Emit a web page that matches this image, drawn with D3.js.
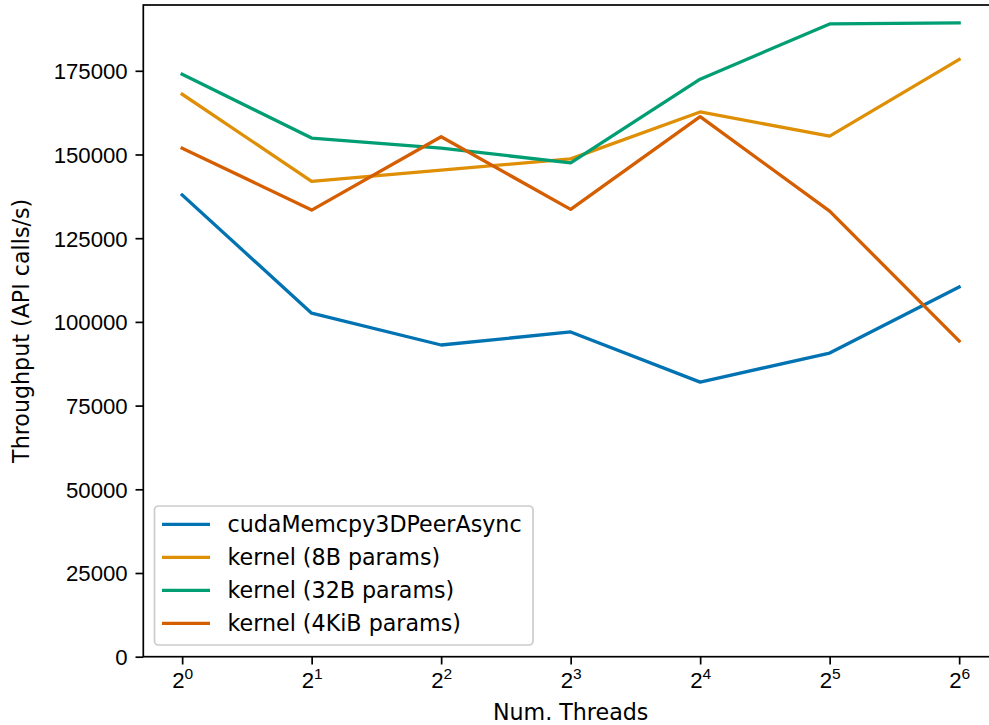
<!DOCTYPE html>
<html>
<head>
<meta charset="utf-8">
<script src="https://cdn.jsdelivr.net/npm/d3@7"></script>
<style>
  body { margin: 0; background: white; }
  svg { font-family: "DejaVu Sans", sans-serif; }
</style>
</head>
<body>
<div id="chart"></div>
<script>
// data
var threads = [1, 2, 4, 8, 16, 32, 64];
var seriesNames = ["cudaMemcpy3DPeerAsync", "kernel (8B params)", "kernel (32B params)", "kernel (4KiB params)"];
var memcpyPeer = [137900, 102600, 93100, 97000, 82000, 90700, 110400];
var kernel8B = [168000, 142000, 145300, 148700, 162700, 155500, 178400];
var kernel32B = [174000, 154900, 151900, 147500, 172500, 189000, 189300];
var kernel4KiB = [151900, 133400, 155300, 133600, 161300, 133100, 94300];
var colors = ["#0173b2", "#de8f05", "#029e73", "#d55e00"];
var yTicks = [0, 25000, 50000, 75000, 100000, 125000, 150000, 175000];

var allSeries = [memcpyPeer, kernel8B, kernel32B, kernel4KiB];

var W = 989, H = 725;
var plotL = 143.3, plotR = 998, plotT = 5, plotB = 656.7;
var fs = 22.2;

var svg = d3.select("#chart").append("svg")
    .attr("width", W)
    .attr("height", H);

var x = d3.scaleLog().base(2)
    .domain([Math.pow(2, -0.3), Math.pow(2, 6.3)])
    .range([plotL, plotR]);
var y = d3.scaleLinear()
    .domain([0, 194650])
    .range([plotB, plotT]);

// lines
var line = d3.line()
    .x(function(d, i) { return x(threads[i]); })
    .y(function(d) { return y(d); });

allSeries.forEach(function(s, k) {
    svg.append("path")
        .datum(s)
        .attr("d", line)
        .attr("fill", "none")
        .attr("stroke", colors[k])
        .attr("stroke-width", 3.3)
        .attr("stroke-linejoin", "round")
        .attr("stroke-linecap", "square");
});

// axes
var xAxis = svg.append("g")
    .attr("transform", "translate(0," + plotB + ")")
    .call(d3.axisBottom(x).tickValues(threads).tickSizeOuter(0).tickSize(7.8).tickPadding(7.8).tickFormat(""));

xAxis.selectAll(".tick").each(function(d) {
    var t = d3.select(this).append("text")
        .attr("y", 31.5)
        .attr("fill", "black")
        .attr("text-anchor", "middle")
        .style("font-size", fs + "px");
    t.append("tspan").text("2");
    t.append("tspan")
        .attr("dy", -9.5)
        .style("font-size", (fs * 0.7) + "px")
        .text(Math.round(Math.log2(d)));
});

var yAxis = svg.append("g")
    .attr("transform", "translate(" + plotL + ",0)")
    .call(d3.axisLeft(y).tickValues(yTicks).tickSizeOuter(0).tickSize(7.8).tickPadding(7.8).tickFormat(d3.format("d")));

yAxis.selectAll("text")
    .style("font-size", fs + "px")
    .attr("fill", "black")
    .attr("dy", "0.36em");

svg.selectAll(".domain").remove();
svg.selectAll(".tick line").attr("stroke", "black").attr("stroke-width", 1.7);

// spines
svg.append("rect")
    .attr("x", plotL)
    .attr("y", plotT)
    .attr("width", plotR - plotL)
    .attr("height", plotB - plotT)
    .attr("fill", "none")
    .attr("stroke", "black")
    .attr("stroke-width", 1.7);

// axis labels
svg.append("text")
    .attr("x", (plotL + plotR) / 2)
    .attr("y", 720)
    .attr("text-anchor", "middle")
    .style("font-size", fs + "px")
    .text("Num. Threads");

svg.append("text")
    .attr("transform", "translate(29," + ((plotT + plotB) / 2) + ") rotate(-90)")
    .attr("text-anchor", "middle")
    .style("font-size", fs + "px")
    .text("Throughput (API calls/s)");

// legend
var legend = svg.append("g");
legend.append("rect")
    .attr("x", 154.5)
    .attr("y", 506)
    .attr("width", 378.5)
    .attr("height", 139)
    .attr("rx", 4)
    .attr("fill", "white")
    .attr("fill-opacity", 0.8)
    .attr("stroke", "#cccccc")
    .attr("stroke-width", 1.7);

seriesNames.forEach(function(name, k) {
    var yy = 524.3 + k * 33;
    legend.append("line")
        .attr("x1", 162)
        .attr("x2", 210)
        .attr("y1", yy)
        .attr("y2", yy)
        .attr("stroke", colors[k])
        .attr("stroke-width", 3.3);
    legend.append("text")
        .attr("x", 227.5)
        .attr("y", yy)
        .attr("dy", "0.36em")
        .style("font-size", fs + "px")
        .text(name);
});
</script>
</body>
</html>
